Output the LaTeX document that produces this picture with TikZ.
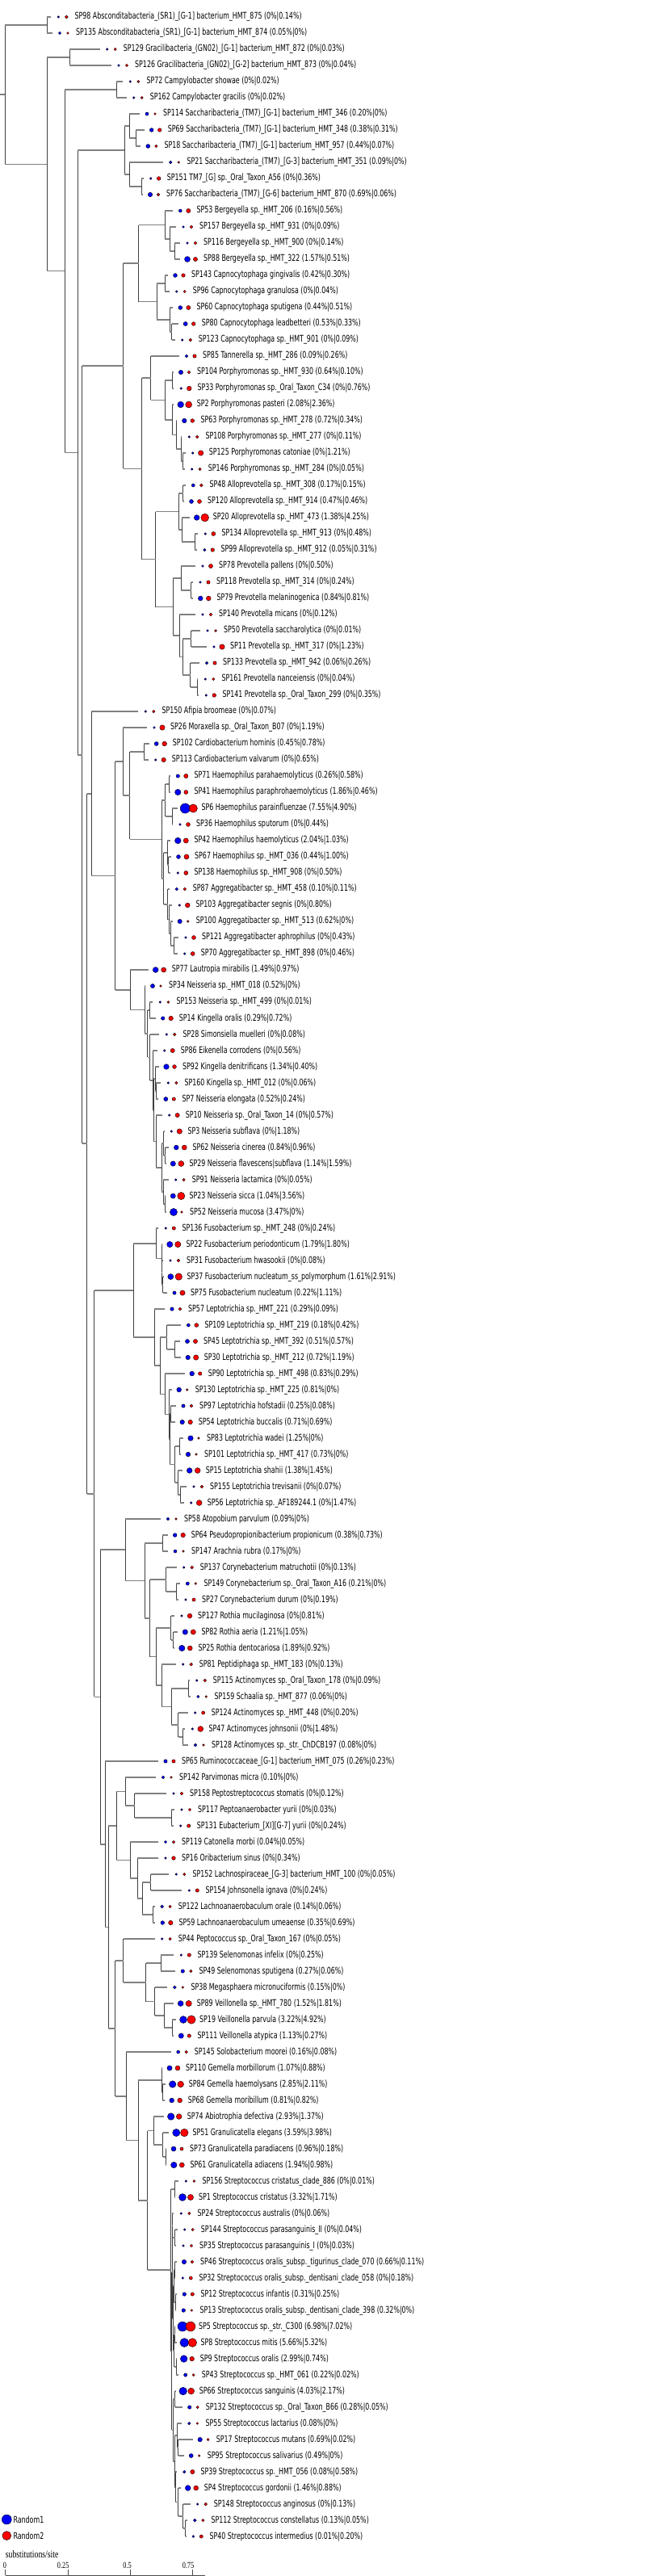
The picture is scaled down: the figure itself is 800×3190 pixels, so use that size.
\documentclass[tikz,border=0pt]{standalone}
\usepackage{fontspec}
\usetikzlibrary{calc}
\newfontfamily\leaffont{DejaVu Sans}[FakeStretch=0.7]
\newfontfamily\scalefont{Liberation Serif}[FakeStretch=0.75]

\tikzset{
  hline/.style={draw=gray, line width=1.6pt},
  vline/.style={draw=black!75, line width=0.9pt},
  bdot/.style={circle, draw=black, fill=blue, line width=0.4pt, inner sep=0pt},
  rdot/.style={circle, draw=black, fill=red, line width=0.4pt, inner sep=0pt},
  leaflbl/.style={anchor=west, inner sep=0pt, font=\leaffont\fontsize{11.3}{13}\selectfont},
  ticklbl/.style={anchor=base east, inner sep=0pt, font=\scalefont\fontsize{11}{12}\selectfont}
}

% leaf: id, row, x of blue dot, blue %, red %, name
\newcommand\leaf[6]{%
  \pgfmathsetmacro\ry{21+20*#2}%
  \pgfmathsetmacro\rb{1.3+1.75*sqrt(#4)}%
  \pgfmathsetmacro\rr{1.3+1.75*sqrt(#5)}%
  \coordinate (#1) at (#3-9,\ry);
  \node[bdot, minimum size=2*\rb] (#1-b) at (#3,\ry) {};
  \node[rdot, minimum size=2*\rr] (#1-r) at (#3+10,\ry) {};
  \node[leaflbl] (#1-l) at (#3+20,\ry) {#1 #6 (#4\%|#5\%)};
}
% clade: name, x, first child, last child
\newcommand\clade[4]{%
  \path ($(#3)!0.5!(#4)$) coordinate (#1-m) (#2,0) coordinate (#1-x);
  \coordinate (#1) at (#1-x |- #1-m);
  \draw[vline] (#1 |- #3) -- (#1 |- #4);
  \draw[hline] (#1 |- #3) -- (#3);
  \draw[hline] (#1 |- #4) -- (#4);
}

\begin{document}
\begin{tikzpicture}[x=1pt,y=-1pt]
  \fill[white] (0,0) rectangle (800,3190);
  \useasboundingbox (0,0) rectangle (800,3190);
  %leaves
  \leaf{SP98}{0}{72.3}{0}{0.14}{Absconditabacteria\_(SR1)\_[G-1] bacterium\_HMT\_875}
  \leaf{SP135}{1}{74}{0.05}{0}{Absconditabacteria\_(SR1)\_[G-1] bacterium\_HMT\_874}
  \leaf{SP129}{2}{132.7}{0}{0.03}{Gracilibacteria\_(GN02)\_[G-1] bacterium\_HMT\_872}
  \leaf{SP126}{3}{147}{0}{0.04}{Gracilibacteria\_(GN02)\_[G-2] bacterium\_HMT\_873}
  \leaf{SP72}{4}{161.3}{0}{0.02}{Campylobacter showae}
  \leaf{SP162}{5}{165.7}{0}{0.02}{Campylobacter gracilis}
  \leaf{SP114}{6}{182}{0.20}{0}{Saccharibacteria\_(TM7)\_[G-1] bacterium\_HMT\_346}
  \leaf{SP69}{7}{187.7}{0.38}{0.31}{Saccharibacteria\_(TM7)\_[G-1] bacterium\_HMT\_348}
  \leaf{SP18}{8}{183.3}{0.44}{0.07}{Saccharibacteria\_(TM7)\_[G-1] bacterium\_HMT\_957}
  \leaf{SP21}{9}{211.3}{0.09}{0}{Saccharibacteria\_(TM7)\_[G-3] bacterium\_HMT\_351}
  \leaf{SP151}{10}{186.7}{0}{0.36}{TM7\_[G] sp.\_Oral\_Taxon\_A56}
  \leaf{SP76}{11}{186}{0.69}{0.06}{Saccharibacteria\_(TM7)\_[G-6] bacterium\_HMT\_870}
  \leaf{SP53}{12}{223.3}{0.16}{0.56}{Bergeyella sp.\_HMT\_206}
  \leaf{SP157}{13}{227}{0}{0.09}{Bergeyella sp.\_HMT\_931}
  \leaf{SP116}{14}{232}{0}{0.14}{Bergeyella sp.\_HMT\_900}
  \leaf{SP88}{15}{232}{1.57}{0.51}{Bergeyella sp.\_HMT\_322}
  \leaf{SP143}{16}{217}{0.42}{0.30}{Capnocytophaga gingivalis}
  \leaf{SP96}{17}{218.7}{0}{0.04}{Capnocytophaga granulosa}
  \leaf{SP60}{18}{223.3}{0.44}{0.51}{Capnocytophaga sputigena}
  \leaf{SP80}{19}{229.7}{0.53}{0.33}{Capnocytophaga leadbetteri}
  \leaf{SP123}{20}{225.7}{0}{0.09}{Capnocytophaga sp.\_HMT\_901}
  \leaf{SP85}{21}{231}{0.09}{0.26}{Tannerella sp.\_HMT\_286}
  \leaf{SP104}{22}{224}{0.64}{0.10}{Porphyromonas sp.\_HMT\_930}
  \leaf{SP33}{23}{224.3}{0}{0.76}{Porphyromonas sp.\_Oral\_Taxon\_C34}
  \leaf{SP2}{24}{223.7}{2.08}{2.36}{Porphyromonas pasteri}
  \leaf{SP63}{25}{228.3}{0.72}{0.34}{Porphyromonas sp.\_HMT\_278}
  \leaf{SP108}{26}{234.3}{0}{0.11}{Porphyromonas sp.\_HMT\_277}
  \leaf{SP125}{27}{238.7}{0}{1.21}{Porphyromonas catoniae}
  \leaf{SP146}{28}{237.7}{0}{0.05}{Porphyromonas sp.\_HMT\_284}
  \leaf{SP48}{29}{239.3}{0.17}{0.15}{Alloprevotella sp.\_HMT\_308}
  \leaf{SP120}{30}{237}{0.47}{0.46}{Alloprevotella sp.\_HMT\_914}
  \leaf{SP20}{31}{243.7}{1.38}{4.25}{Alloprevotella sp.\_HMT\_473}
  \leaf{SP134}{32}{254.3}{0}{0.48}{Alloprevotella sp.\_HMT\_913}
  \leaf{SP99}{33}{253.3}{0.05}{0.31}{Alloprevotella sp.\_HMT\_912}
  \leaf{SP78}{34}{251}{0}{0.50}{Prevotella pallens}
  \leaf{SP118}{35}{248}{0}{0.24}{Prevotella sp.\_HMT\_314}
  \leaf{SP79}{36}{248.3}{0.84}{0.81}{Prevotella melaninogenica}
  \leaf{SP140}{37}{251}{0}{0.12}{Prevotella micans}
  \leaf{SP50}{38}{257}{0}{0.01}{Prevotella saccharolytica}
  \leaf{SP11}{39}{265}{0}{1.23}{Prevotella sp.\_HMT\_317}
  \leaf{SP133}{40}{256}{0.06}{0.26}{Prevotella sp.\_HMT\_942}
  \leaf{SP161}{41}{254.3}{0}{0.04}{Prevotella nanceiensis}
  \leaf{SP141}{42}{255.3}{0}{0.35}{Prevotella sp.\_Oral\_Taxon\_299}
  \leaf{SP150}{43}{180.3}{0}{0.07}{Afipia broomeae}
  \leaf{SP26}{44}{191}{0}{1.19}{Moraxella sp.\_Oral\_Taxon\_B07}
  \leaf{SP102}{45}{193.7}{0.45}{0.78}{Cardiobacterium hominis}
  \leaf{SP113}{46}{192.7}{0}{0.65}{Cardiobacterium valvarum}
  \leaf{SP71}{47}{220.3}{0.26}{0.58}{Haemophilus parahaemolyticus}
  \leaf{SP41}{48}{220.3}{1.86}{0.46}{Haemophilus paraphrohaemolyticus}
  \leaf{SP6}{49}{229.3}{7.55}{4.90}{Haemophilus parainfluenzae}
  \leaf{SP36}{50}{223}{0}{0.44}{Haemophilus sputorum}
  \leaf{SP42}{51}{220.3}{2.04}{1.03}{Haemophilus haemolyticus}
  \leaf{SP67}{52}{221}{0.44}{1.00}{Haemophilus sp.\_HMT\_036}
  \leaf{SP138}{53}{220.3}{0}{0.50}{Haemophilus sp.\_HMT\_908}
  \leaf{SP87}{54}{218.7}{0.10}{0.11}{Aggregatibacter sp.\_HMT\_458}
  \leaf{SP103}{55}{222.3}{0}{0.80}{Aggregatibacter segnis}
  \leaf{SP100}{56}{222.7}{0.62}{0}{Aggregatibacter sp.\_HMT\_513}
  \leaf{SP121}{57}{230}{0}{0.43}{Aggregatibacter aphrophilus}
  \leaf{SP70}{58}{228.7}{0}{0.46}{Aggregatibacter sp.\_HMT\_898}
  \leaf{SP77}{59}{192.7}{1.49}{0.97}{Lautropia mirabilis}
  \leaf{SP34}{60}{189}{0.52}{0}{Neisseria sp.\_HMT\_018}
  \leaf{SP153}{61}{198.3}{0}{0.01}{Neisseria sp.\_HMT\_499}
  \leaf{SP14}{62}{201.7}{0.29}{0.72}{Kingella oralis}
  \leaf{SP28}{63}{206.3}{0}{0.08}{Simonsiella muelleri}
  \leaf{SP86}{64}{203.7}{0}{0.56}{Eikenella corrodens}
  \leaf{SP92}{65}{206}{1.34}{0.40}{Kingella denitrificans}
  \leaf{SP160}{66}{208.3}{0}{0.06}{Kingella sp.\_HMT\_012}
  \leaf{SP7}{67}{205.3}{0.52}{0.24}{Neisseria elongata}
  \leaf{SP10}{68}{209.7}{0}{0.57}{Neisseria sp.\_Oral\_Taxon\_14}
  \leaf{SP3}{69}{212.3}{0}{1.18}{Neisseria subflava}
  \leaf{SP62}{70}{218.3}{0.84}{0.96}{Neisseria cinerea}
  \leaf{SP29}{71}{214.3}{1.14}{1.59}{Neisseria flavescens|subflava}
  \leaf{SP91}{72}{217.7}{0}{0.05}{Neisseria lactamica}
  \leaf{SP23}{73}{214.3}{1.04}{3.56}{Neisseria sicca}
  \leaf{SP52}{74}{215}{3.47}{0}{Neisseria mucosa}
  \leaf{SP136}{75}{205.3}{0}{0.24}{Fusobacterium sp.\_HMT\_248}
  \leaf{SP22}{76}{210.3}{1.79}{1.80}{Fusobacterium periodonticum}
  \leaf{SP31}{77}{211}{0}{0.08}{Fusobacterium hwasookii}
  \leaf{SP37}{78}{211.3}{1.61}{2.91}{Fusobacterium nucleatum\_ss\_polymorphum}
  \leaf{SP75}{79}{216}{0.22}{1.11}{Fusobacterium nucleatum}
  \leaf{SP57}{80}{213}{0.29}{0.09}{Leptotrichia sp.\_HMT\_221}
  \leaf{SP109}{81}{233.3}{0.18}{0.42}{Leptotrichia sp.\_HMT\_219}
  \leaf{SP45}{82}{232}{0.51}{0.57}{Leptotrichia sp.\_HMT\_392}
  \leaf{SP30}{83}{232.7}{0.72}{1.19}{Leptotrichia sp.\_HMT\_212}
  \leaf{SP90}{84}{237.7}{0.83}{0.29}{Leptotrichia sp.\_HMT\_498}
  \leaf{SP130}{85}{221.7}{0.81}{0}{Leptotrichia sp.\_HMT\_225}
  \leaf{SP97}{86}{227}{0.25}{0.08}{Leptotrichia hofstadii}
  \leaf{SP54}{87}{225.7}{0.71}{0.69}{Leptotrichia buccalis}
  \leaf{SP83}{88}{236}{1.25}{0}{Leptotrichia wadei}
  \leaf{SP101}{89}{233}{0.73}{0}{Leptotrichia sp.\_HMT\_417}
  \leaf{SP15}{90}{234.7}{1.38}{1.45}{Leptotrichia shahii}
  \leaf{SP155}{91}{240}{0}{0.07}{Leptotrichia trevisanii}
  \leaf{SP56}{92}{236.7}{0}{1.47}{Leptotrichia sp.\_AF189244.1}
  \leaf{SP58}{93}{208}{0.09}{0}{Atopobium parvulum}
  \leaf{SP64}{94}{216.7}{0.38}{0.73}{Pseudopropionibacterium propionicum}
  \leaf{SP147}{95}{217}{0.17}{0}{Arachnia rubra}
  \leaf{SP137}{96}{227.7}{0}{0.13}{Corynebacterium matruchotii}
  \leaf{SP149}{97}{232.3}{0.21}{0}{Corynebacterium sp.\_Oral\_Taxon\_A16}
  \leaf{SP27}{98}{230}{0}{0.19}{Corynebacterium durum}
  \leaf{SP127}{99}{225}{0}{0.81}{Rothia mucilaginosa}
  \leaf{SP82}{100}{229.3}{1.21}{1.05}{Rothia aeria}
  \leaf{SP25}{101}{225.3}{1.89}{0.92}{Rothia dentocariosa}
  \leaf{SP81}{102}{226.7}{0}{0.13}{Peptidiphaga sp.\_HMT\_183}
  \leaf{SP115}{103}{243.7}{0}{0.09}{Actinomyces sp.\_Oral\_Taxon\_178}
  \leaf{SP159}{104}{245.3}{0.06}{0}{Schaalia sp.\_HMT\_877}
  \leaf{SP124}{105}{241.7}{0}{0.20}{Actinomyces sp.\_HMT\_448}
  \leaf{SP47}{106}{238.3}{0}{1.48}{Actinomyces johnsonii}
  \leaf{SP128}{107}{242}{0.08}{0}{Actinomyces sp.\_str.\_ChDCB197}
  \leaf{SP65}{108}{205}{0.26}{0.23}{Ruminococcaceae\_[G-1] bacterium\_HMT\_075}
  \leaf{SP142}{109}{202}{0.10}{0}{Parvimonas micra}
  \leaf{SP158}{110}{215}{0}{0.12}{Peptostreptococcus stomatis}
  \leaf{SP117}{111}{225}{0}{0.03}{Peptoanaerobacter yurii}
  \leaf{SP131}{112}{223.7}{0}{0.24}{Eubacterium\_[XI][G-7] yurii}
  \leaf{SP119}{113}{205}{0.04}{0.05}{Catonella morbi}
  \leaf{SP16}{114}{205}{0}{0.34}{Oribacterium sinus}
  \leaf{SP152}{115}{218.3}{0}{0.05}{Lachnospiraceae\_[G-3] bacterium\_HMT\_100}
  \leaf{SP154}{116}{234.3}{0}{0.24}{Johnsonella ignava}
  \leaf{SP122}{117}{200.7}{0.14}{0.06}{Lachnoanaerobaculum orale}
  \leaf{SP59}{118}{201.3}{0.35}{0.69}{Lachnoanaerobaculum umeaense}
  \leaf{SP44}{119}{200.7}{0}{0.05}{Peptococcus sp.\_Oral\_Taxon\_167}
  \leaf{SP139}{120}{224.3}{0}{0.25}{Selenomonas infelix}
  \leaf{SP49}{121}{226.3}{0.27}{0.06}{Selenomonas sputigena}
  \leaf{SP38}{122}{216.3}{0.15}{0}{Megasphaera micronuciformis}
  \leaf{SP89}{123}{223.7}{1.52}{1.81}{Veillonella sp.\_HMT\_780}
  \leaf{SP19}{124}{227}{3.22}{4.92}{Veillonella parvula}
  \leaf{SP111}{125}{224.3}{1.13}{0.27}{Veillonella atypica}
  \leaf{SP145}{126}{220.7}{0.16}{0.08}{Solobacterium moorei}
  \leaf{SP110}{127}{210}{1.07}{0.88}{Gemella morbillorum}
  \leaf{SP84}{128}{213.7}{2.85}{2.11}{Gemella haemolysans}
  \leaf{SP68}{129}{212.7}{0.81}{0.82}{Gemella moribillum}
  \leaf{SP74}{130}{211.7}{2.93}{1.37}{Abiotrophia defectiva}
  \leaf{SP51}{131}{218.3}{3.59}{3.98}{Granulicatella elegans}
  \leaf{SP73}{132}{215}{0.96}{0.18}{Granulicatella paradiacens}
  \leaf{SP61}{133}{215.3}{1.94}{0.98}{Granulicatella adiacens}
  \leaf{SP156}{134}{230.3}{0}{0.01}{Streptococcus cristatus\_clade\_886}
  \leaf{SP1}{135}{226}{3.32}{1.71}{Streptococcus cristatus}
  \leaf{SP24}{136}{224.3}{0}{0.06}{Streptococcus australis}
  \leaf{SP144}{137}{228.7}{0}{0.04}{Streptococcus parasanguinis\_II}
  \leaf{SP35}{138}{227}{0}{0.03}{Streptococcus parasanguinis\_I}
  \leaf{SP46}{139}{228}{0.66}{0.11}{Streptococcus oralis\_subsp.\_tigurinus\_clade\_070}
  \leaf{SP32}{140}{226.3}{0}{0.18}{Streptococcus oralis\_subsp.\_dentisani\_clade\_058}
  \leaf{SP12}{141}{228.3}{0.31}{0.25}{Streptococcus infantis}
  \leaf{SP13}{142}{227.3}{0.32}{0}{Streptococcus oralis\_subsp.\_dentisani\_clade\_398}
  \leaf{SP5}{143}{226}{6.98}{7.02}{Streptococcus sp.\_str.\_C300}
  \leaf{SP8}{144}{228.3}{5.66}{5.32}{Streptococcus mitis}
  \leaf{SP9}{145}{227.7}{2.99}{0.74}{Streptococcus oralis}
  \leaf{SP43}{146}{229.7}{0.22}{0.02}{Streptococcus sp.\_HMT\_061}
  \leaf{SP66}{147}{226.7}{4.03}{2.17}{Streptococcus sanguinis}
  \leaf{SP132}{148}{234.7}{0.28}{0.05}{Streptococcus sp.\_Oral\_Taxon\_B66}
  \leaf{SP55}{149}{234.3}{0.08}{0}{Streptococcus lactarius}
  \leaf{SP17}{150}{247.7}{0.69}{0.02}{Streptococcus mutans}
  \leaf{SP95}{151}{236.7}{0.49}{0}{Streptococcus salivarius}
  \leaf{SP39}{152}{228.3}{0.08}{0.58}{Streptococcus sp.\_HMT\_056}
  \leaf{SP4}{153}{232.7}{1.46}{0.88}{Streptococcus gordonii}
  \leaf{SP148}{154}{244.7}{0}{0.13}{Streptococcus anginosus}
  \leaf{SP112}{155}{241.3}{0.13}{0.05}{Streptococcus constellatus}
  \leaf{SP40}{156}{239.3}{0.01}{0.20}{Streptococcus intermedius}
  %top clades
  \clade{nAbs}{58.3}{SP98}{SP135}
  \clade{nGra}{86}{SP129}{SP126}
  \clade{nCam}{144}{SP72}{SP162}
  \clade{nTa}{168}{SP69}{SP18}
  \clade{nTb}{160}{SP114}{nTa}
  \clade{nTc}{175}{SP151}{SP76}
  \clade{nTd}{160.3}{SP21}{nTc}
  \clade{nTM}{154.3}{nTb}{nTd}
  %bacteroidetes
  \clade{nBe3}{216}{SP116}{SP88}
  \clade{nBe2}{210}{SP157}{nBe3}
  \clade{nBe}{204}{SP53}{nBe2}
  \clade{nCa1}{204}{SP143}{SP96}
  \clade{nCa3}{212.7}{SP80}{SP123}
  \clade{nCa2}{210}{SP60}{nCa3}
  \clade{nCa}{194.3}{nCa1}{nCa2}
  \clade{nFla}{171.7}{nBe}{nCa}
  \clade{nPo1}{213.3}{SP104}{SP33}
  \clade{nPo5}{226}{SP125}{SP146}
  \clade{nPo4}{224}{SP108}{nPo5}
  \clade{nPo3}{218}{SP63}{nPo4}
  \clade{nPo2}{213.3}{SP2}{nPo3}
  \clade{nPo}{204}{nPo1}{nPo2}
  \clade{nTP}{186.7}{SP85}{nPo}
  \clade{nAl1}{226.7}{SP48}{SP120}
  \clade{nAl3}{241}{SP134}{SP99}
  \clade{nAl2}{225.3}{SP20}{nAl3}
  \clade{nAl}{221.3}{nAl1}{nAl2}
  \clade{nPr2}{236.7}{SP118}{SP79}
  \clade{nPr1}{224.3}{SP78}{nPr2}
  \clade{nPr5}{236.7}{SP50}{SP11}
  \clade{nPr7}{244.3}{SP161}{SP141}
  \clade{nPr6}{235.7}{SP133}{nPr7}
  \clade{nPr4}{226.3}{nPr5}{nPr6}
  \clade{nPr3}{222.3}{SP140}{nPr4}
  \clade{nPr}{214.3}{nPr1}{nPr3}
  \clade{nPV}{192.7}{nAl}{nPr}
  \clade{nPP}{175.7}{nTP}{nPV}
  \clade{nBac}{152.7}{nFla}{nPP}
  %proteobacteria
  \clade{nCar}{178.3}{SP102}{SP113}
  \clade{nHa1}{209.3}{SP71}{SP41}
  \clade{nHa2}{213.3}{SP6}{SP36}
  \clade{nHa}{204.7}{nHa1}{nHa2}
  \clade{nHb1}{208.7}{SP67}{SP138}
  \clade{nHb}{207.3}{SP42}{nHb1}
  \clade{nAg3}{215.3}{SP121}{SP70}
  \clade{nAg2}{211}{SP100}{nAg3}
  \clade{nAg1}{209.3}{SP103}{nAg2}
  \clade{nAg}{207.7}{SP87}{nAg1}
  \clade{nHc}{202.7}{nHb}{nAg}
  \clade{nPas}{200}{nHa}{nHc}
  \clade{nCP}{160.7}{nCar}{nPas}
  \clade{nMo}{152}{SP26}{nCP}
  \clade{nNe3}{185}{SP153}{SP14}
  \clade{nNe7a}{193}{SP160}{SP7}
  \clade{nNe7}{192.3}{SP92}{nNe7a}
  \clade{nNe9c}{204.5}{SP62}{SP29}
  \clade{nNe9a}{202.5}{SP3}{nNe9c}
  \clade{nNe9d}{204}{SP23}{SP52}
  \clade{nNe9b}{202}{SP91}{nNe9d}
  \clade{nNe9}{200}{nNe9a}{nNe9b}
  \clade{nNe8}{193.3}{SP10}{nNe9}
  \clade{nNe6}{190}{nNe7}{nNe8}
  \clade{nNe5}{189}{SP86}{nNe6}
  \clade{nNe4}{185.7}{SP28}{nNe5}
  \clade{nNe2}{182.7}{nNe3}{nNe4}
  \clade{nNe1}{179}{SP34}{nNe2}
  \clade{nNe}{161.3}{SP77}{nNe1}
  \clade{nPb}{142.7}{nMo}{nNe}
  \clade{nPro}{113.3}{SP150}{nPb}
  %fusobacteria
  \clade{nFu3}{201.5}{SP37}{SP75}
  \clade{nFu2}{200.3}{SP31}{nFu3}
  \clade{nFu1}{200}{SP22}{nFu2}
  \clade{nFu}{193.3}{SP136}{nFu1}
  \clade{nLe2a}{216}{SP45}{SP30}
  \clade{nLe2}{206.7}{SP109}{nLe2a}
  \clade{nLe5a}{211.3}{SP97}{SP54}
  \clade{nLe7}{222}{SP83}{SP101}
  \clade{nLe9}{223.3}{SP155}{SP56}
  \clade{nLe8}{220}{SP15}{nLe9}
  \clade{nLe6}{216.7}{nLe7}{nLe8}
  \clade{nLe5}{210.3}{nLe5a}{nLe6}
  \clade{nLe4}{209.3}{SP130}{nLe5}
  \clade{nLe3}{204}{SP90}{nLe4}
  \clade{nLe1}{198.3}{nLe2}{nLe3}
  \clade{nLe}{191}{SP57}{nLe1}
  \clade{nFus}{165}{nFu}{nLe}
  %actinobacteria
  \clade{nAc2}{201.3}{SP64}{SP147}
  \clade{nCo1}{218}{SP149}{SP27}
  \clade{nCo}{205.7}{SP137}{nCo1}
  \clade{nRo1}{214.7}{SP82}{SP25}
  \clade{nRo}{211.7}{SP127}{nRo1}
  \clade{nAc7}{233.3}{SP115}{SP159}
  \clade{nAc9}{226}{SP47}{SP128}
  \clade{nAc8}{220.7}{SP124}{nAc9}
  \clade{nAc6}{212.3}{nAc7}{nAc8}
  \clade{nAc5}{200}{SP81}{nAc6}
  \clade{nAc4}{193.3}{nRo}{nAc5}
  \clade{nAc3}{185.7}{nCo}{nAc4}
  \clade{nAc1}{179.3}{nAc2}{nAc3}
  \clade{nAc}{155.3}{SP58}{nAc1}
  %firmicutes
  \clade{nPe2}{212.3}{SP117}{SP131}
  \clade{nPe1}{166.7}{SP158}{nPe2}
  \clade{nPe}{155.3}{SP142}{nPe1}
  \clade{nLa3}{186.7}{SP152}{SP154}
  \clade{nLa4}{189}{SP122}{SP59}
  \clade{nLa2}{176}{nLa3}{nLa4}
  \clade{nLa1}{170}{SP16}{nLa2}
  \clade{nLa}{161}{SP119}{nLa1}
  \clade{nCl}{144.3}{nPe}{nLa}
  \clade{nSe}{199}{SP139}{SP49}
  \clade{nVe1}{213.3}{SP19}{SP111}
  \clade{nVe}{203.3}{SP89}{nVe1}
  \clade{nNg2}{191.7}{SP38}{nVe}
  \clade{nNg1}{180.7}{nSe}{nNg2}
  \clade{nNg}{152.7}{SP44}{nNg1}
  \clade{nGe1}{201}{SP84}{SP68}
  \clade{nGe}{200}{SP110}{nGe1}
  \clade{nGr1}{205}{SP73}{SP61}
  \clade{nGr}{201.7}{SP51}{nGr1}
  \clade{nAb}{190}{SP74}{nGr}
  %streptococcus
  \clade{nSt1}{216}{SP156}{SP1}
  \clade{nS1}{216.7}{SP144}{SP35}
  \clade{nS2}{213.3}{SP24}{nS1}
  \clade{nS3}{216}{SP46}{SP32}
  \clade{nS4}{217}{SP12}{SP13}
  \clade{nS5}{215}{nS3}{nS4}
  \clade{nS6}{216}{SP5}{SP8}
  \clade{nS7}{218.3}{SP9}{SP43}
  \clade{nS8}{215.7}{nS6}{nS7}
  \clade{nS9}{214.3}{nS5}{nS8}
  \clade{nS10}{213}{nS2}{nS9}
  \clade{nS11}{216.7}{SP66}{SP132}
  \clade{nS12}{220.7}{SP17}{SP95}
  \clade{nS13}{219}{SP55}{nS12}
  \clade{nS14}{229.7}{SP112}{SP40}
  \clade{nS15}{226.7}{SP148}{nS14}
  \clade{nS16}{220.7}{SP4}{nS15}
  \clade{nS17}{217.3}{SP39}{nS16}
  \clade{nS18}{216}{nS13}{nS17}
  \clade{nS19}{214}{nS11}{nS18}
  \clade{nS20}{212.7}{nS10}{nS19}
  \clade{nSt}{211.7}{nSt1}{nS20}
  \clade{nBa2}{182.7}{nAb}{nSt}
  \clade{nBa1}{171}{nGe}{nBa2}
  \clade{nBa}{156}{SP145}{nBa1}
  \clade{nNB}{142.7}{nNg}{nBa}
  \clade{nFi1}{134}{nCl}{nNB}
  \clade{nFi}{130}{SP65}{nFi1}
  %backbone
  \clade{nAF}{124}{nAc}{nFi}
  \clade{nH}{116.7}{nFus}{nAF}
  \clade{nF}{107.7}{nPro}{nH}
  \clade{nE}{101.7}{nBac}{nF}
  \clade{nD}{96}{nTM}{nE}
  \clade{nC}{80.3}{nCam}{nD}
  \clade{nB}{58.3}{nGra}{nC}
  \clade{root}{6}{nAbs}{nB}
  \draw[hline] (root) -- ++(-6,0);
  %legend
  \node[bdot, minimum size=12] (key1) at (8.3,3120) {};
  \node[rdot, minimum size=11] (key2) at (8.3,3140) {};
  \node[leaflbl] (key1-l) at (16.3,3120) {Random1};
  \node[leaflbl] (key2-l) at (16.3,3140) {Random2};
  %scale
  \node[anchor=base west, inner sep=0pt, font=\scalefont\fontsize{13}{14}\selectfont] (sclbl) at (6.7,3167) {substitutions/site};
  \coordinate (sc0) at (6.7,3189);
  \coordinate (sc1) at (254.3,3189);
  \draw[black!70, line width=0.9pt] (sc0) -- (sc1);
  \foreach \k/\t in {0/0,1/0.25,2/0.5,3/0.75}{
    \draw[black!70, line width=0.9pt] (6.7+77.4*\k,3189) -- ++(0,-7);
    \node[ticklbl] (tick\k) at (8.2+77.4*\k,3180.5) {\t};
  }
\end{tikzpicture}
\end{document}
